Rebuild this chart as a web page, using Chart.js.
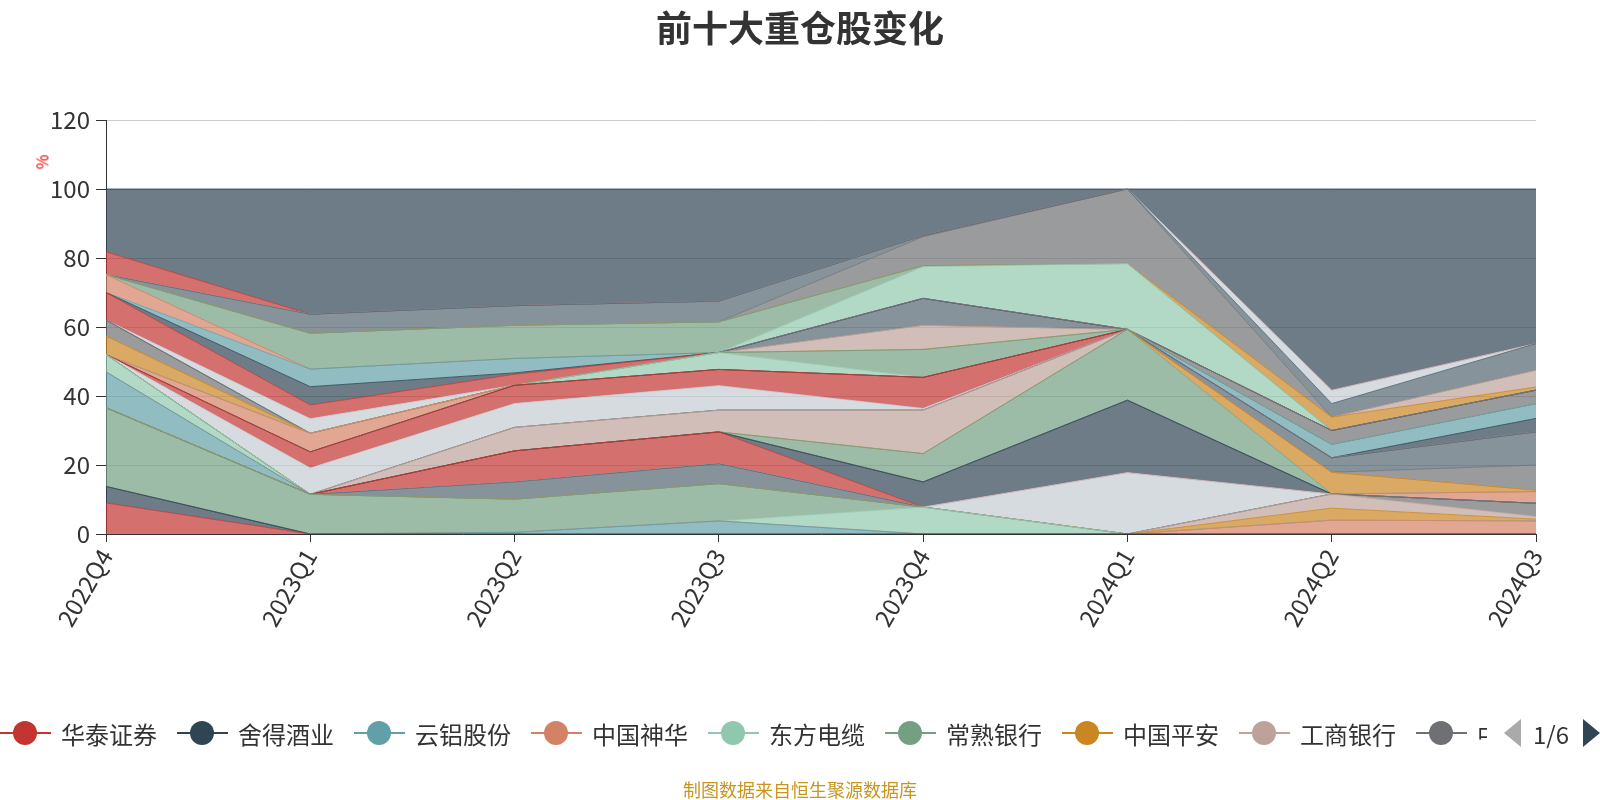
<!DOCTYPE html>
<html>
<head>
<meta charset="utf-8">
<script src="https://cdn.jsdelivr.net/npm/chart.js@4/dist/chart.umd.min.js"></script>
<style>
body { margin: 0; background: #fff; font-family: "Noto Sans CJK SC", "Noto Sans", sans-serif; }
#wrap { position: relative; width: 1600px; height: 800px; overflow: hidden; }
canvas { position: absolute; left: 0; top: 0; }
#title { position: absolute; top: 3px; left: 0; width: 1600px; text-align: center; font-size: 36px; line-height: 46px; font-weight: bold; color: #333; }
#unit { position: absolute; left: 34px; top: 150px; font-size: 16px; color: #e00; transform: rotate(-90deg); }
#legend { position: absolute; left: 0; top: 713px; width: 1487px; height: 40px; overflow: hidden; white-space: nowrap; }
.item { display: inline-flex; align-items: center; height: 40px; margin-right: 20px; }
.icon { position: relative; width: 51px; height: 26px; }
.icon .ln { position: absolute; left: 0; top: 12px; width: 51px; height: 2px; }
.icon .dot { position: absolute; left: 13px; top: 1px; width: 24px; height: 24px; border-radius: 50%; }
.item span { font-size: 24px; color: #333; margin-left: 10px; }
#pager { position: absolute; left: 1504px; top: 713px; height: 40px; display: flex; align-items: center; }
.arrL { width: 0; height: 0; border-top: 14px solid transparent; border-bottom: 14px solid transparent; border-right: 17px solid #aaa; }
.arrR { width: 0; height: 0; border-top: 14px solid transparent; border-bottom: 14px solid transparent; border-left: 17px solid #2f4554; }
#pager span { font-size: 24px; color: #333; margin: 0 14px 0 12px; }
#source { position: absolute; top: 776px; left: 0; width: 1600px; text-align: center; font-size: 18px; color: #c8961e; }
</style>
</head>
<body>
<div id="wrap">
  <canvas id="chart" width="1600" height="800"></canvas>
  <div id="title">前十大重仓股变化</div>
  <div id="unit">%</div>
  <div id="legend"></div>
  <div id="pager"><div class="arrL"></div><span>1/6</span><div class="arrR"></div></div>
  <div id="source">制图数据来自恒生聚源数据库</div>
</div>
<script>
const categories = ["2022Q4", "2023Q1", "2023Q2", "2023Q3", "2023Q4", "2024Q1", "2024Q2", "2024Q3"];

const palette = ["#c23531", "#2f4554", "#61a0a8", "#d48265", "#91c7ae", "#749f83",
                 "#ca8622", "#bda29a", "#6e7074", "#546570", "#c4ccd3"];

// first names are the ones visible on legend page 1
const knownNames = ["华泰证券", "舍得酒业", "云铝股份", "中国神华", "东方电缆", "常熟银行", "中国平安", "工商银行", "中"];

// holding share per quarter, stacked bottom to top in this order
const seriesValues = [
    [9, 0, 0, 0, 0, 0, 0, 0],
    [4.8, 0, 0, 0, 0, 0, 0, 0],
    [0, 0, 0.5, 3.8, 0, 0, 0, 0],
    [0, 0, 0, 0, 0, 0, 4, 3.8],
    [0, 0, 0, 0, 7.8, 0, 0, 0],
    [22.8, 11.5, 9.6, 10.8, 0, 0, 0, 0],
    [0, 0, 0, 0, 0, 0, 3.5, 0.5],
    [0, 0, 0, 0, 0, 0, 4.1, 0.8],
    [0, 0, 0, 0, 0, 0, 0, 3.8],
    [0, 0, 5, 5.8, 0, 0, 0, 0],
    [0, 0, 0, 0, 0, 17.8, 0, 0],
    [0, 0, 9, 9.2, 0, 0, 0, 0],
    [0, 0, 0, 0, 7.3, 21, 0, 0],
    [10.4, 0, 0, 0, 0, 0, 0, 0],
    [0, 0, 0, 0, 0, 0, 0, 3.4],
    [5, 0, 0, 0, 0, 0, 0, 0],
    [0, 0, 0, 0, 8.2, 20.5, 0, 0],
    [0, 0, 0, 0, 0, 0, 6.3, 0.4],
    [0, 0, 6.8, 6.3, 12.6, 0, 0, 0],
    [0, 0, 0, 0, 0, 0, 0, 7.3],
    [0, 0, 0, 0, 0, 0, 4.2, 9.6],
    [0, 7.6, 6.9, 7.1, 0.5, 0, 0, 0],
    [0, 4.7, 5.3, 4.7, 9, 0, 0, 0],
    [0, 0, 0, 0, 0, 0, 0, 3.9],
    [0, 0, 0, 0, 0, 0, 3.9, 4.3],
    [0, 5.4, 0, 0, 0, 0, 0, 0],
    [0, 0, 0, 4.9, 0, 0, 0, 0],
    [0, 0, 0, 0, 8.1, 0, 0, 0],
    [5.4, 0, 0, 0, 0, 0, 0, 0],
    [0, 0, 0, 0, 7, 0, 0, 0],
    [4.6, 0, 0, 0, 0, 0, 4, 3.9],
    [0, 0, 0, 0, 7.8, 0, 0, 0],
    [0, 4.2, 0, 0, 0, 0, 0, 0],
    [8, 4, 3.2, 0, 0, 0, 0, 0],
    [0, 5.3, 0.4, 0, 0, 0, 0, 0],
    [0, 5.1, 4.2, 0, 0, 0, 0, 0],
    [5.2, 0, 0, 0, 0, 0, 0, 0],
    [0, 0, 0, 0, 9.2, 19.1, 0, 0],
    [0, 10.4, 9.6, 8.9, 0.3, 0, 0, 0],
    [0, 0, 0, 0, 0, 0, 3.9, 0.9],
    [0, 0, 0, 0, 0, 0, 0, 4.9],
    [0, 0, 0, 0, 8.4, 21.6, 0, 0],
    [0, 5.5, 5.7, 6, 0.3, 0, 3.9, 7.7],
    [0, 0, 0, 0, 0, 0, 3.9, 0],
    [6.6, 0, 0, 0, 0, 0, 0, 0],
    [18.2, 36.3, 33.8, 32.5, 13.5, 0, 58.3, 44.8]
];

const yTicks = [0, 20, 40, 60, 80, 100, 120];

function hexToRgba(hex, a) {
    const n = parseInt(hex.slice(1), 16);
    return `rgba(${(n >> 16) & 255},${(n >> 8) & 255},${n & 255},${a})`;
}

const datasets = seriesValues.map((vals, i) => {
    const c = palette[i % palette.length];
    return {
        label: knownNames[i] || ("持仓" + (i + 1)),
        data: vals,
        borderColor: hexToRgba(c, 0.8),
        borderWidth: 1,
        backgroundColor: hexToRgba(c, 0.7),
        fill: i === 0 ? "origin" : "-1",
        pointRadius: 0,
        tension: 0
    };
});

// legend page 1
const legend = document.getElementById("legend");
knownNames.forEach((name, i) => {
    const c = palette[i % palette.length];
    const el = document.createElement("div");
    el.className = "item";
    el.innerHTML = `<div class="icon"><div class="ln" style="background:${c}"></div><div class="dot" style="background:${c}"></div></div><span>${name}</span>`;
    legend.appendChild(el);
});

const ctx = document.getElementById("chart").getContext("2d");

new Chart(ctx, {
    type: "line",
    data: {
        labels: categories,
        datasets: datasets
    },
    options: {
        responsive: false,
        animation: false,
        layout: { padding: { top: 120, right: 64, left: 0, bottom: 0 } },
        plugins: {
            legend: { display: false },
            tooltip: { enabled: false }
        },
        scales: {
            x: {
                stacked: true,
                offset: false,
                grid: { drawOnChartArea: false, tickLength: 8, tickColor: "#333" },
                border: { color: "#333", width: 1 },
                ticks: {
                    autoSkip: false,
                    maxRotation: 60,
                    minRotation: 60,
                    padding: 2,
                    color: "#333",
                    font: { size: 24, family: "Noto Sans CJK SC" }
                },
                afterFit(scale) { scale.height = 266; }
            },
            y: {
                stacked: true,
                min: 0,
                max: 120,
                afterBuildTicks(scale) { scale.ticks = yTicks.map(v => ({ value: v })); },
                grid: { color: "#ccc", tickColor: "#333", tickLength: 10 },
                border: { color: "#333", width: 1 },
                ticks: {
                    padding: 6,
                    color: "#333",
                    font: { size: 24, family: "Noto Sans CJK SC" }
                },
                afterFit(scale) { scale.width = 106; }
            }
        }
    }
});
</script>
</body>
</html>
